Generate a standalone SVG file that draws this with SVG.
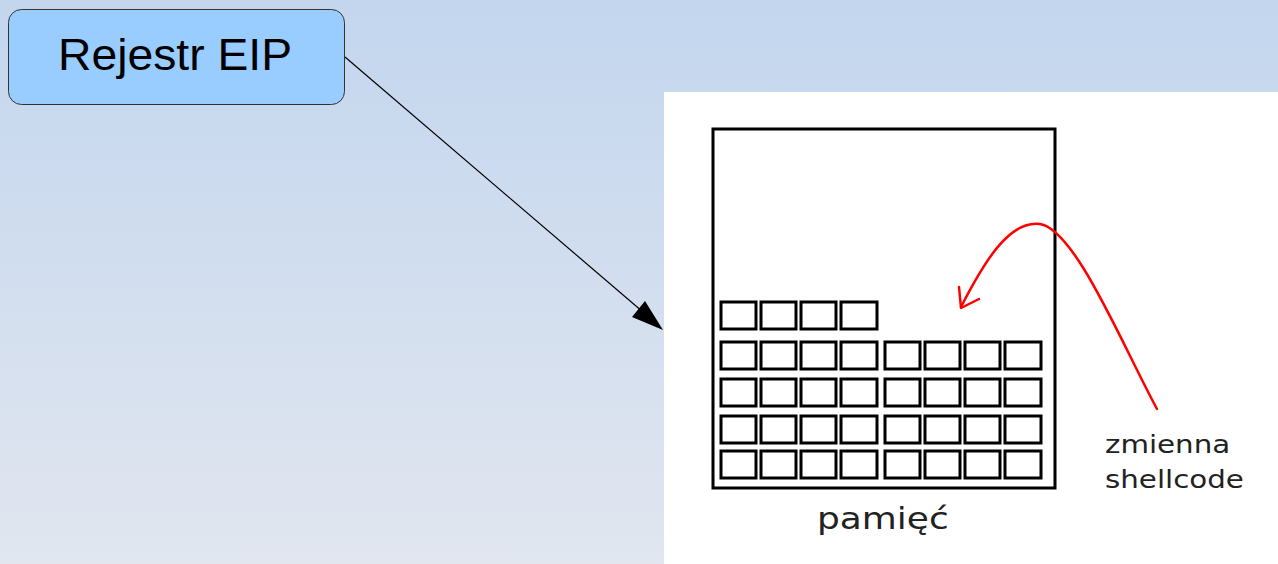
<svg xmlns="http://www.w3.org/2000/svg" width="1278" height="564" viewBox="0 0 1278 564">
  <defs>
    <linearGradient id="bg" x1="0" y1="0" x2="0" y2="1">
      <stop offset="0" stop-color="#c3d6ee"/>
      <stop offset="1" stop-color="#e1e6ef"/>
    </linearGradient>
    <style>
      .cell { fill: #fff; stroke: #000; stroke-width: 3; }
      .lbl { font-family: "DejaVu Sans", sans-serif; fill: #222; }
    </style>
  </defs>

  <rect width="1278" height="564" fill="url(#bg)"/>

  <!-- memory picture panel -->
  <g id="memory">
    <rect x="664" y="92" width="614" height="472" fill="#fff"/>
    <rect x="713" y="129" width="342" height="359" fill="none" stroke="#000" stroke-width="3"/>
    <g id="cells">
      <!-- top partial row -->
      <rect class="cell" x="721" y="302" width="35" height="27"/>
      <rect class="cell" x="761" y="302" width="35" height="27"/>
      <rect class="cell" x="801" y="302" width="35" height="27"/>
      <rect class="cell" x="841" y="302" width="36" height="27"/>
      <!-- full rows -->
      <g id="row1" transform="translate(0,342)">
        <rect class="cell" x="721" y="0" width="35" height="27"/>
        <rect class="cell" x="761" y="0" width="35" height="27"/>
        <rect class="cell" x="801" y="0" width="35" height="27"/>
        <rect class="cell" x="841" y="0" width="36" height="27"/>
        <rect class="cell" x="885" y="0" width="35" height="27"/>
        <rect class="cell" x="925" y="0" width="35" height="27"/>
        <rect class="cell" x="965" y="0" width="35" height="27"/>
        <rect class="cell" x="1005" y="0" width="36" height="27"/>
      </g>
      <use href="#row1" transform="translate(0,37)"/>
      <use href="#row1" transform="translate(0,74)"/>
      <use href="#row1" transform="translate(0,109)"/>
    </g>
    <!-- labels are drawn slightly wide -->
    <text class="lbl" transform="translate(817,529) scale(1.16,1)" font-size="31">pamięć</text>
    <text class="lbl" transform="translate(1105,453) scale(1.15,1)" font-size="25.5">zmienna</text>
    <text class="lbl" transform="translate(1105,488) scale(1.15,1)" font-size="25.5">shellcode</text>
    <!-- red hand-drawn pointer -->
    <g fill="none" stroke="#f00" stroke-width="2.5" stroke-linecap="round" stroke-linejoin="round">
      <path d="M1157,409 C1120,340 1075,230 1040,224 C1010,220 985,260 961,307"/>
      <path d="M959,287 L961,308 L979,299"/>
    </g>
  </g>

  <!-- connectors -->
  <g id="connectors">
    <line x1="345" y1="57" x2="650" y2="318" stroke="#000" stroke-width="1.2"/>
    <path d="M663,330 L632,317 L645,301 Z" fill="#000"/>
  </g>

  <g id="eip">
    <rect x="8.5" y="9.5" width="336" height="95" rx="13" fill="#99ccff" stroke="#333" stroke-width="1"/>
    <text x="58" y="70" font-family="Liberation Sans, Arial, sans-serif" font-size="44" textLength="234" lengthAdjust="spacingAndGlyphs" fill="#000">Rejestr EIP</text>
  </g>
</svg>
